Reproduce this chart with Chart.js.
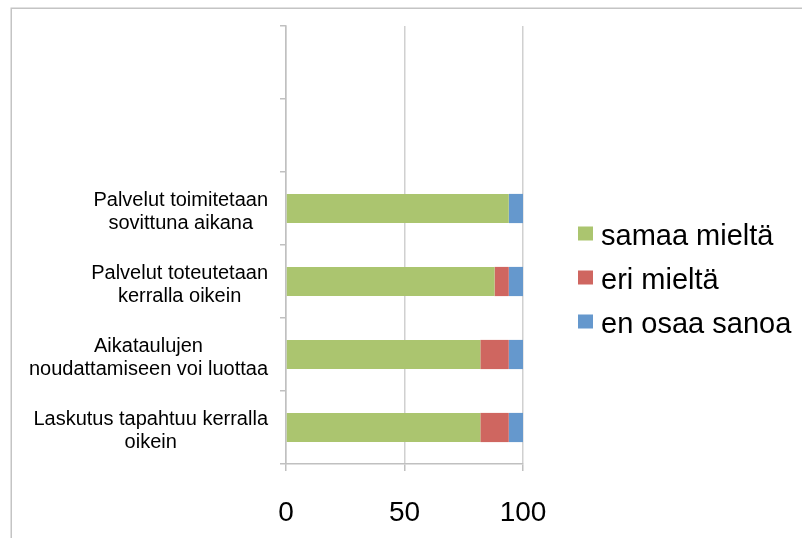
<!DOCTYPE html>
<html>
<head>
<meta charset="utf-8">
<script src="https://cdn.jsdelivr.net/npm/chart.js@4/dist/chart.umd.min.js"></script>
<style>
  html, body { margin: 0; padding: 0; background: #ffffff; }
  #wrap { width: 802px; height: 538px; }
</style>
</head>
<body>
<div id="wrap"><canvas id="c" width="802" height="538"></canvas></div>
<script>
// Statements (top two rows are left empty)
const categories = [
  [''],
  [''],
  ['Palvelut toimitetaan', 'sovittuna aikana'],
  ['Palvelut toteutetaan', 'kerralla oikein'],
  ['Aikataulujen', 'noudattamiseen voi luottaa'],
  ['Laskutus tapahtuu kerralla', 'oikein']
];
const seriesNames = ['samaa mieltä', 'eri mieltä', 'en osaa sanoa'];
const samaaMielta = [null, null, 94, 88, 82, 82];
const eriMielta   = [null, null, 0, 6, 12, 12];
const enOsaaSanoa = [null, null, 6, 6, 6, 6];
const xTicks = [0, 50, 100];

const colors = ['#abc56f', '#cf6660', '#6598cd'];
const FONT = '"Liberation Sans", Arial, sans-serif';

// Outer frame line (top and left edges)
const framePlugin = {
  id: 'frame',
  beforeDraw(chart) {
    const ctx = chart.ctx;
    ctx.save();
    ctx.fillStyle = '#ffffff';
    ctx.fillRect(0, 0, chart.width, chart.height);
    ctx.strokeStyle = '#c4c4c4';
    ctx.lineWidth = 1.5;
    ctx.beginPath();
    ctx.moveTo(chart.width, 8.25);
    ctx.lineTo(11.25, 8.25);
    ctx.lineTo(11.25, chart.height);
    ctx.stroke();
    ctx.restore();
  }
};

// Category labels: each block right-aligned, lines centred within the block
const categoryLabelPlugin = {
  id: 'categoryLabels',
  afterDraw(chart) {
    const ctx = chart.ctx;
    const y = chart.scales.y;
    const right = 268;
    ctx.save();
    ctx.font = '20px ' + FONT;
    ctx.fillStyle = '#000000';
    ctx.textAlign = 'center';
    ctx.textBaseline = 'alphabetic';
    categories.forEach((lines, i) => {
      const widths = lines.map(l => ctx.measureText(l).width);
      const w = Math.max(...widths);
      if (w === 0) return;
      const cx = right - w / 2;
      const cy = y.getPixelForValue(i);
      lines.forEach((l, k) => {
        ctx.fillText(l, cx, cy - 2.7 + k * 23.6);
      });
    });
    ctx.restore();
  }
};

// Legend on the right
const legendPlugin = {
  id: 'sideLegend',
  afterDraw(chart) {
    const ctx = chart.ctx;
    ctx.save();
    ctx.font = '29px ' + FONT;
    ctx.textAlign = 'left';
    ctx.textBaseline = 'alphabetic';
    chart.data.datasets.forEach((ds, i) => {
      const base = 244.5 + i * 44;
      ctx.fillStyle = ds.backgroundColor;
      ctx.fillRect(578, base - 18, 15, 14);
      ctx.fillStyle = '#000000';
      ctx.fillText(ds.label, 601, base);
    });
    ctx.restore();
  }
};

new Chart(document.getElementById('c'), {
  type: 'bar',
  data: {
    labels: categories.map(l => l.join(' ')),
    datasets: [
      { label: seriesNames[0], data: samaaMielta, backgroundColor: colors[0] },
      { label: seriesNames[1], data: eriMielta,   backgroundColor: colors[1] },
      { label: seriesNames[2], data: enOsaaSanoa, backgroundColor: colors[2] }
    ]
  },
  options: {
    indexAxis: 'y',
    responsive: false,
    animation: false,
    devicePixelRatio: 1,
    barPercentage: 0.4,
    categoryPercentage: 1,
    layout: { padding: { top: 26, right: 279, left: 0, bottom: 0 } },
    plugins: {
      legend: { display: false },
      tooltip: { enabled: false }
    },
    scales: {
      x: {
        stacked: true,
        min: 0,
        max: 100,
        afterBuildTicks(scale) {
          scale.ticks = xTicks.map(v => ({ value: v }));
        },
        afterFit(scale) { scale.height = 74; },
        grid: {
          color: '#d0d0d0',
          lineWidth: 1.5,
          tickLength: 7,
          tickColor: '#c0c0c0'
        },
        border: { color: '#c0c0c0', width: 1.5 },
        ticks: {
          font: { family: FONT, size: 28 },
          color: '#000000',
          padding: 25,
          maxRotation: 0
        }
      },
      y: {
        stacked: true,
        afterFit(scale) { scale.width = 286; },
        grid: {
          drawOnChartArea: false,
          drawTicks: true,
          tickLength: 6,
          color: '#c0c0c0',
          lineWidth: 1.5
        },
        border: { color: '#c0c0c0', width: 1.5 },
        ticks: { display: false }
      }
    }
  },
  plugins: [framePlugin, categoryLabelPlugin, legendPlugin]
});
</script>
</body>
</html>
